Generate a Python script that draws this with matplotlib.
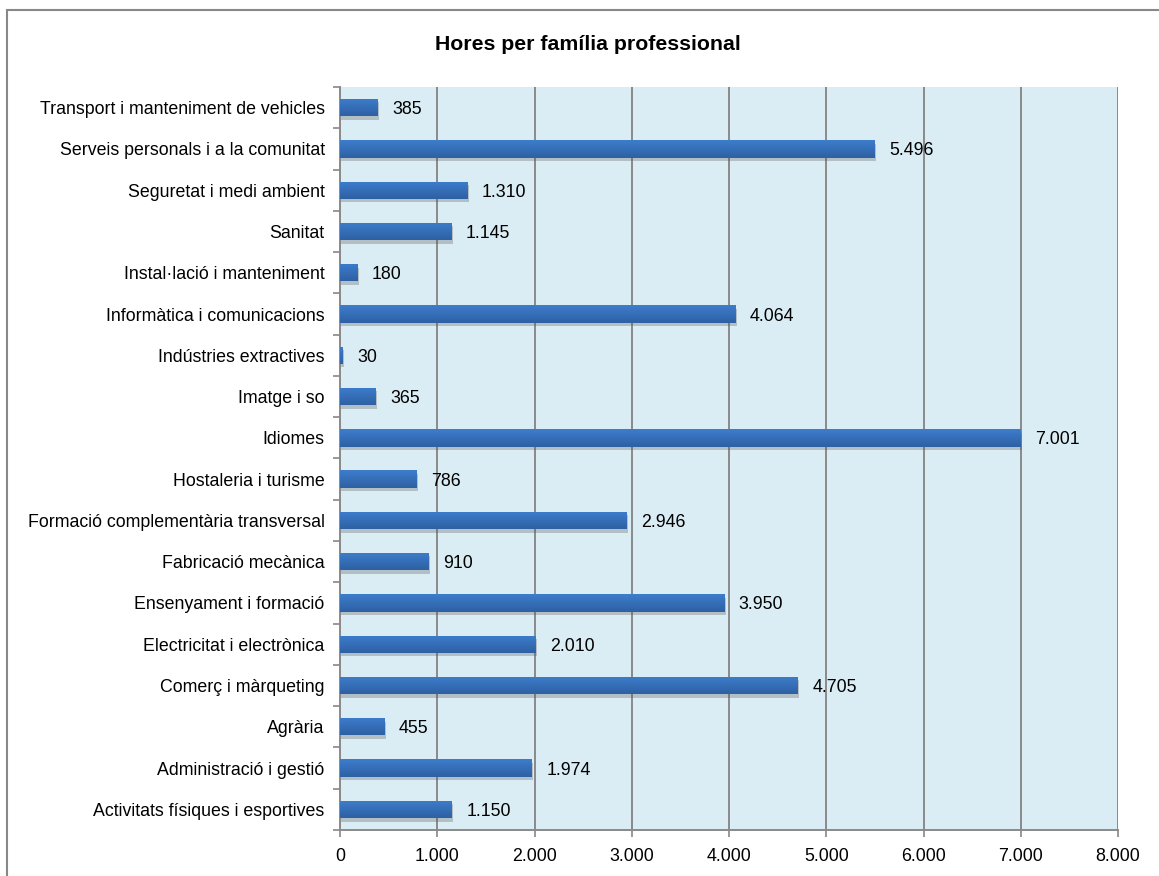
import matplotlib
matplotlib.use("Agg")
import matplotlib.pyplot as plt
import matplotlib.patheffects as pe
from matplotlib.patches import Rectangle
from matplotlib.colors import LinearSegmentedColormap
import numpy as np

plt.rcParams['font.family'] = ['Liberation Sans', 'DejaVu Sans']

categories = [
    "Activitats físiques i esportives",
    "Administració i gestió",
    "Agrària",
    "Comerç i màrqueting",
    "Electricitat i electrònica",
    "Ensenyament i formació",
    "Fabricació mecànica",
    "Formació complementària transversal",
    "Hostaleria i turisme",
    "Idiomes",
    "Imatge i so",
    "Indústries extractives",
    "Informàtica i comunicacions",
    "Instal·lació i manteniment",
    "Sanitat",
    "Seguretat i medi ambient",
    "Serveis personals i a la comunitat",
    "Transport i manteniment de vehicles",
]
values = [1150, 1974, 455, 4705, 2010, 3950, 910, 2946, 786, 7001,
          365, 30, 4064, 180, 1145, 1310, 5496, 385]
xticks = [0, 1000, 2000, 3000, 4000, 5000, 6000, 7000, 8000]
xtick_labels = ["0", "1.000", "2.000", "3.000", "4.000", "5.000", "6.000", "7.000", "8.000"]
title = "Hores per família professional"

def fmt(v):
    return f"{v:,}".replace(",", ".")

FS = 12.8

fig = plt.figure(figsize=(11.59, 8.76), dpi=100)
ax = fig.add_axes([340/1159, 1-830/876, (1118-340)/1159, (830-87)/876])
ax.set_facecolor('#dbedf4')

y = np.arange(len(categories))
bars = ax.barh(y, values, height=0.42, color='#3a76c2', zorder=3,
               path_effects=[pe.withSimplePatchShadow(offset=(1, -2.5), shadow_rgbFace='#555555', alpha=0.3), pe.Normal()])

# gradient overlay (lighter on top, darker at bottom)
grad = np.linspace(1, 0, 64).reshape(-1, 1)
cmap = LinearSegmentedColormap.from_list('g', ['#3d7dcc', '#2e60a3'])
for b in bars:
    x0, y0 = b.get_x(), b.get_y()
    w, h = b.get_width(), b.get_height()
    im = ax.imshow(grad, extent=(x0, x0 + w, y0 + h, y0), aspect='auto',
                   cmap=cmap, vmin=0, vmax=1, zorder=4, origin='upper')
    im.set_clip_path(b)

for yi, v in zip(y, values):
    ax.text(v + 150, yi, fmt(v), va='center_baseline', ha='left', fontsize=FS, color='black', zorder=5)

ax.set_xlim(0, 8000)
ax.set_ylim(-0.5, len(categories) - 0.5)
ax.set_xticks(xticks)
ax.set_xticklabels(xtick_labels, fontsize=FS)
ax.set_yticks(y)
ax.set_yticklabels(categories, fontsize=FS)
ax.set_yticks(np.arange(-0.5, len(categories), 1), minor=True)
ax.tick_params(axis='y', which='major', length=0, pad=11)
ax.tick_params(axis='y', which='minor', length=5, color='#888888', width=1.2)
ax.tick_params(axis='x', length=5, color='#888888', width=1.2, pad=8)

ax.xaxis.grid(True, color='#8a8a8a', linewidth=1.4, zorder=1)
ax.set_axisbelow(True)
for s in ['top', 'right']:
    ax.spines[s].set_visible(False)
for s in ['left', 'bottom']:
    ax.spines[s].set_color('#8a8a8a')
    ax.spines[s].set_linewidth(1.4)

fig.text(588/1159, 1-45/876, title, ha='center', va='center',
         fontsize=15.3, fontweight='bold')

fig.patches.append(Rectangle((7/1159, -0.1), 1.2, 1.1 - 10/876,
                             transform=fig.transFigure, fill=False,
                             edgecolor='#888888', linewidth=1.5, figure=fig))

fig.savefig('out.png', dpi=100)
